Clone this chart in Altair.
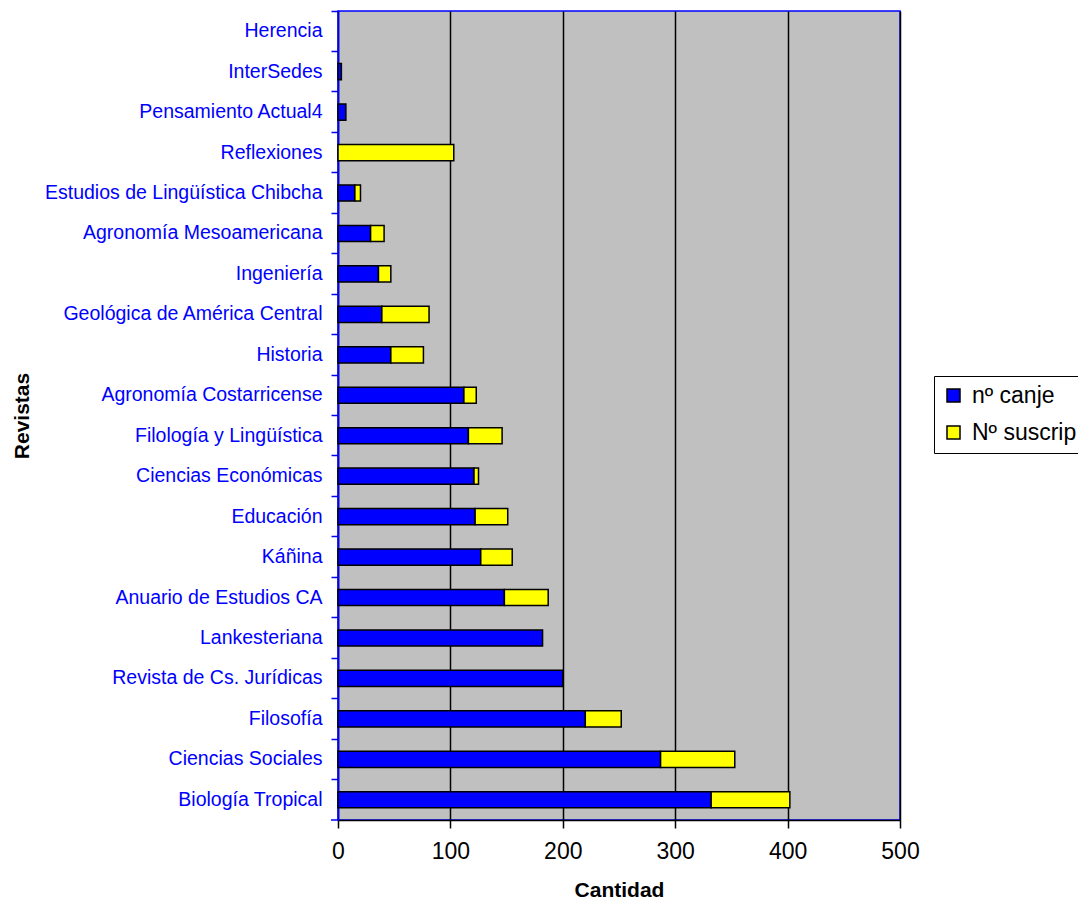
import altair as alt
import pandas as pd

revistas = ["Herencia", "InterSedes", "Pensamiento Actual4", "Reflexiones",
            "Estudios de Lingüística Chibcha", "Agronomía Mesoamericana", "Ingeniería",
            "Geológica de América Central", "Historia", "Agronomía Costarricense",
            "Filología y Lingüística", "Ciencias Económicas", "Educación", "Káñina",
            "Anuario de Estudios CA", "Lankesteriana", "Revista de Cs. Jurídicas",
            "Filosofía", "Ciencias Sociales", "Biología Tropical"]
canje = [0, 3, 7, 0, 15, 29, 36, 39, 47, 112, 116, 121, 122, 127, 148, 182, 200, 220, 287, 332]
suscrip = [0, 0, 0, 103, 5, 12, 11, 42, 29, 11, 30, 4, 29, 28, 39, 0, 0, 32, 66, 70]
series = ["nº canje", "Nº suscrip"]
x_ticks = [0, 100, 200, 300, 400, 500]

rows = []
for r, a, b in zip(revistas, canje, suscrip):
    rows.append({"Revista": r, "Serie": series[0], "orden": 0, "valor": a})
    rows.append({"Revista": r, "Serie": series[1], "orden": 1, "valor": b})
df = pd.DataFrame(rows)

FONT = "Liberation Sans"
W, H = 562, 809

bars = alt.Chart(df).transform_filter("datum.valor > 0").mark_bar(
    stroke="black", strokeWidth=1.5, height=alt.RelativeBandSize(0.4)
).encode(
    y=alt.Y("Revista:N", sort=revistas,
            scale=alt.Scale(domain=revistas, paddingInner=0, paddingOuter=0),
            axis=alt.Axis(title="Revistas", titleFont=FONT, titleFontSize=21,
                          titleFontWeight="bold", titleColor="black",
                          titleX=-316, titleBaseline="middle",
                          labelFont=FONT, labelFontSize=19.5, labelColor="#0000FF",
                          labelLimit=400, labelPadding=9,
                          domainColor="#0000FF", domainWidth=1.5,
                          tickColor="#0000FF", tickWidth=1.5, tickSize=7,
                          bandPosition=0, grid=False)),
    x=alt.X("valor:Q", stack="zero",
            scale=alt.Scale(domain=[0, 500], nice=False),
            axis=alt.Axis(title="Cantidad", titleFont=FONT, titleFontSize=21,
                          titleFontWeight="bold", titleColor="black",
                          titleY=70, titleBaseline="middle",
                          values=x_ticks, labelFont=FONT, labelFontSize=23,
                          labelColor="black", labelPadding=12, labelFlush=False,
                          domainColor="black", domainWidth=1.5,
                          tickColor="black", tickWidth=1.5, tickSize=8,
                          grid=True, gridColor="black", gridWidth=1.5)),
    color=alt.Color("Serie:N", sort=series,
                    scale=alt.Scale(domain=series, range=["#0000FF", "#FFFF00"]),
                    legend=alt.Legend(title=None, orient="none", legendX=596, legendY=365,
                                      labelFont=FONT, labelFontSize=23, labelColor="black",
                                      symbolType="square", symbolSize=169,
                                      symbolStrokeColor="black", symbolStrokeWidth=1.5,
                                      symbolOpacity=1,
                                      strokeColor="black", fillColor="white",
                                      padding=8, rowPadding=13, labelOffset=7)),
    order=alt.Order("orden:Q")
)

# blue tick closing the category axis at its bottom end
end_tick = alt.Chart(pd.DataFrame({"k": [0]})).mark_rule(
    color="#0000FF", strokeWidth=1.5
).encode(x=alt.value(-7), x2=alt.value(0), y=alt.value(H))

chart = alt.layer(bars, end_tick).properties(
    width=W, height=H,
    padding={"left": 330, "top": 3, "right": 178, "bottom": 81},
    autosize=alt.AutoSizeParams(type="none"),
    background="white"
).configure_view(
    fill="#C0C0C0", stroke="#0000FF", strokeWidth=1.5
)

chart.save("out.html", embed_options={"renderer": "svg", "actions": False})
